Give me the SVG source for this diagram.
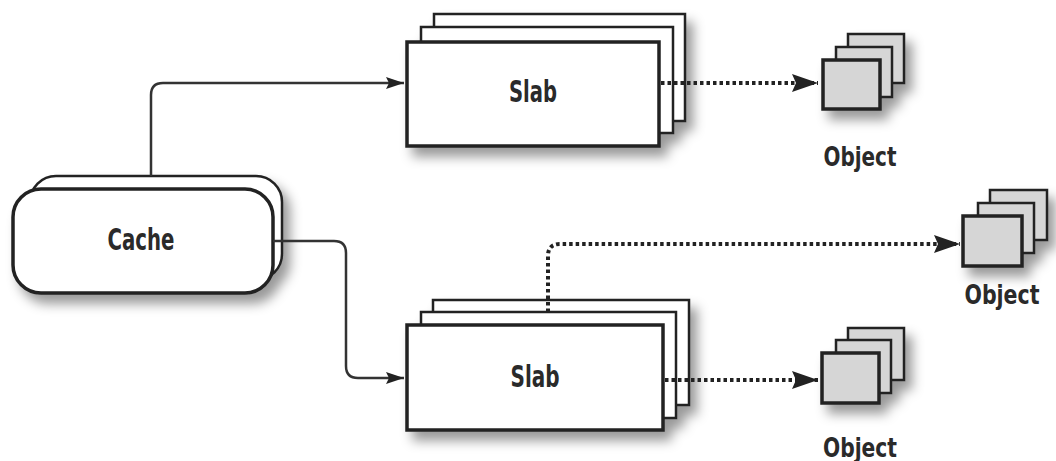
<svg xmlns="http://www.w3.org/2000/svg" width="1056" height="461" viewBox="0 0 1056 461">
  <defs>
    <filter id="sh" x="-20%" y="-20%" width="150%" height="160%">
      <feDropShadow dx="7" dy="9" stdDeviation="6" flood-color="#000" flood-opacity="0.4"/>
    </filter>
    <marker id="arS" markerUnits="userSpaceOnUse" markerWidth="20" markerHeight="14" refX="18" refY="7" orient="auto">
      <path d="M0,1 L18,7 L0,13 L3,7 Z" fill="#222"/>
    </marker>
    <marker id="arD" markerUnits="userSpaceOnUse" markerWidth="28" markerHeight="20" refX="26" refY="10" orient="auto">
      <path d="M0,1 L26,10 L0,19 L4,10 Z" fill="#222"/>
    </marker>
    <style>
      .box { fill: #fff; stroke: #222; }
      .back { stroke-width: 2.5; }
      .front { stroke-width: 3.5; }
      .obj { fill: #d6d6d6; stroke: #222; }
      .lbl { font-family: "Liberation Sans Narrow", "DejaVu Sans Condensed", "Roboto Condensed", "Liberation Sans", sans-serif; font-weight: bold; fill: #2a2a2a; text-anchor: middle; }
      .solid { fill: none; stroke: #333; stroke-width: 2.5; }
      .dot { fill: none; stroke: #222; stroke-width: 4; stroke-dasharray: 3.5 3; }
    </style>
  </defs>
  <rect width="1056" height="461" fill="#fff"/>

  <g id="cache">
    <g filter="url(#sh)">
      <rect class="box back" x="30" y="176" width="252" height="104" rx="26"/>
      <rect class="box front" x="13" y="189" width="260" height="104" rx="28"/>
    </g>
    <text class="lbl" x="141" y="250" font-size="30" textLength="67" lengthAdjust="spacingAndGlyphs">Cache</text>
  </g>

  <g id="slab-top">
    <g filter="url(#sh)">
      <rect class="box back" x="434" y="14" width="251" height="107"/>
      <rect class="box back" x="421" y="27" width="252" height="106"/>
      <rect class="box front" x="407" y="42" width="252" height="104"/>
    </g>
    <text class="lbl" x="533" y="102" font-size="30" textLength="48" lengthAdjust="spacingAndGlyphs">Slab</text>
  </g>

  <g id="slab-bottom">
    <g filter="url(#sh)">
      <rect class="box back" x="433" y="300" width="256" height="105"/>
      <rect class="box back" x="421" y="312" width="255" height="106"/>
      <rect class="box front" x="407" y="325" width="256" height="105"/>
    </g>
    <text class="lbl" x="535" y="387" font-size="30" textLength="49" lengthAdjust="spacingAndGlyphs">Slab</text>
  </g>

  <g id="object-top">
    <g filter="url(#sh)">
      <rect class="obj back" x="848" y="34" width="56" height="49"/>
      <rect class="obj back" x="836" y="47" width="56" height="50"/>
      <rect class="obj front" x="823" y="60" width="57" height="49"/>
    </g>
    <text class="lbl" x="860" y="166" font-size="27" textLength="73" lengthAdjust="spacingAndGlyphs">Object</text>
  </g>

  <g id="object-right">
    <g filter="url(#sh)">
      <rect class="obj back" x="990" y="190" width="57" height="50"/>
      <rect class="obj back" x="978" y="203" width="56" height="50"/>
      <rect class="obj front" x="963" y="216" width="59" height="50"/>
    </g>
    <text class="lbl" x="1002" y="304" font-size="27" textLength="75" lengthAdjust="spacingAndGlyphs">Object</text>
  </g>

  <g id="object-bottom">
    <g filter="url(#sh)">
      <rect class="obj back" x="848" y="328" width="56" height="52"/>
      <rect class="obj back" x="836" y="340" width="55" height="53"/>
      <rect class="obj front" x="822" y="353" width="57" height="50"/>
    </g>
    <text class="lbl" x="860" y="457" font-size="27" textLength="74" lengthAdjust="spacingAndGlyphs">Object</text>
  </g>

  <g id="connectors">
    <path class="solid" d="M151,176 V95 Q151,83 163,83 H404" marker-end="url(#arS)"/>
    <path class="solid" d="M273,241 H334 Q346,241 346,253 V366 Q346,378 358,378 H404" marker-end="url(#arS)"/>
    <path class="dot" d="M661,83 H818" marker-end="url(#arD)"/>
    <path class="dot" d="M548,312 V256 Q548,244 560,244 H960" marker-end="url(#arD)"/>
    <path class="dot" d="M665,380 H818" marker-end="url(#arD)"/>
  </g>
</svg>
